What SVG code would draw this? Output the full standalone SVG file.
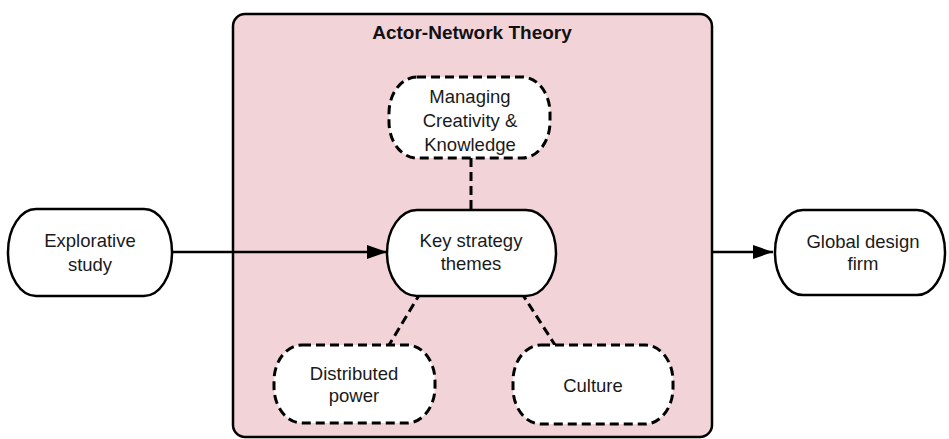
<svg xmlns="http://www.w3.org/2000/svg" width="949" height="439" viewBox="0 0 949 439">
<defs>
<style>
.t{font-family:"Liberation Sans",Arial,Helvetica,sans-serif;font-size:18.5px;fill:#1a1a1a;text-anchor:middle}
.title{font-family:"Liberation Sans",Arial,Helvetica,sans-serif;font-size:19px;font-weight:bold;fill:#111;text-anchor:middle}
.solid{fill:#fff;stroke:#000;stroke-width:2.5}
.dash{fill:#fff;stroke:#000;stroke-width:3;stroke-dasharray:9 5}
.edge{fill:none;stroke:#000;stroke-width:2.5}
.dedge{fill:none;stroke:#000;stroke-width:3;stroke-dasharray:9 5}
</style>
<marker id="arr" viewBox="0 0 20 14" refX="20" refY="7" markerWidth="20" markerHeight="14" markerUnits="userSpaceOnUse" orient="auto">
<path d="M0,0 L20,7 L0,14 Z" fill="#000"/>
</marker>
</defs>
<rect width="949" height="439" fill="#fff"/>
<g id="ant">
<rect x="233" y="14" width="479" height="423" rx="12" ry="12" fill="#f2d3d8" stroke="#000" stroke-width="2.5"/>
<text class="title" x="472" y="39">Actor-Network Theory</text>
</g>
<g id="connectors">
<line class="edge" x1="172" y1="252" x2="387" y2="252" marker-end="url(#arr)"/>
<line class="edge" x1="712" y1="252" x2="773" y2="252" marker-end="url(#arr)"/>
<line class="dedge" x1="471" y1="158" x2="471" y2="210"/>
<line class="dedge" x1="421" y1="292" x2="389" y2="345"/>
<line class="dedge" x1="521" y1="292" x2="555" y2="345"/>
</g>
<g id="explorative">
<rect class="solid" x="8" y="209" width="164" height="87" rx="28" ry="43"/>
<text class="t" x="90" y="247">Explorative</text>
<text class="t" x="90" y="271">study</text>
</g>
<g id="key">
<rect class="solid" x="387" y="210" width="169" height="86" rx="30" ry="43"/>
<text class="t" x="471" y="247">Key strategy</text>
<text class="t" x="471" y="270">themes</text>
</g>
<g id="managing">
<rect class="dash" x="389" y="77" width="161" height="81" rx="28" ry="36"/>
<text class="t" x="470" y="103">Managing</text>
<text class="t" x="470" y="127">Creativity &amp;</text>
<text class="t" x="470" y="151">Knowledge</text>
</g>
<g id="distributed">
<rect class="dash" x="274" y="345" width="161" height="78" rx="28" ry="36"/>
<text class="t" x="354" y="380">Distributed</text>
<text class="t" x="354" y="402">power</text>
</g>
<g id="culture">
<rect class="dash" x="513" y="345" width="160" height="79" rx="28" ry="36"/>
<text class="t" x="593" y="392">Culture</text>
</g>
<g id="global">
<rect class="solid" x="775" y="210" width="170" height="85" rx="28" ry="42"/>
<text class="t" x="863" y="248">Global design</text>
<text class="t" x="863" y="270">firm</text>
</g>
</svg>
